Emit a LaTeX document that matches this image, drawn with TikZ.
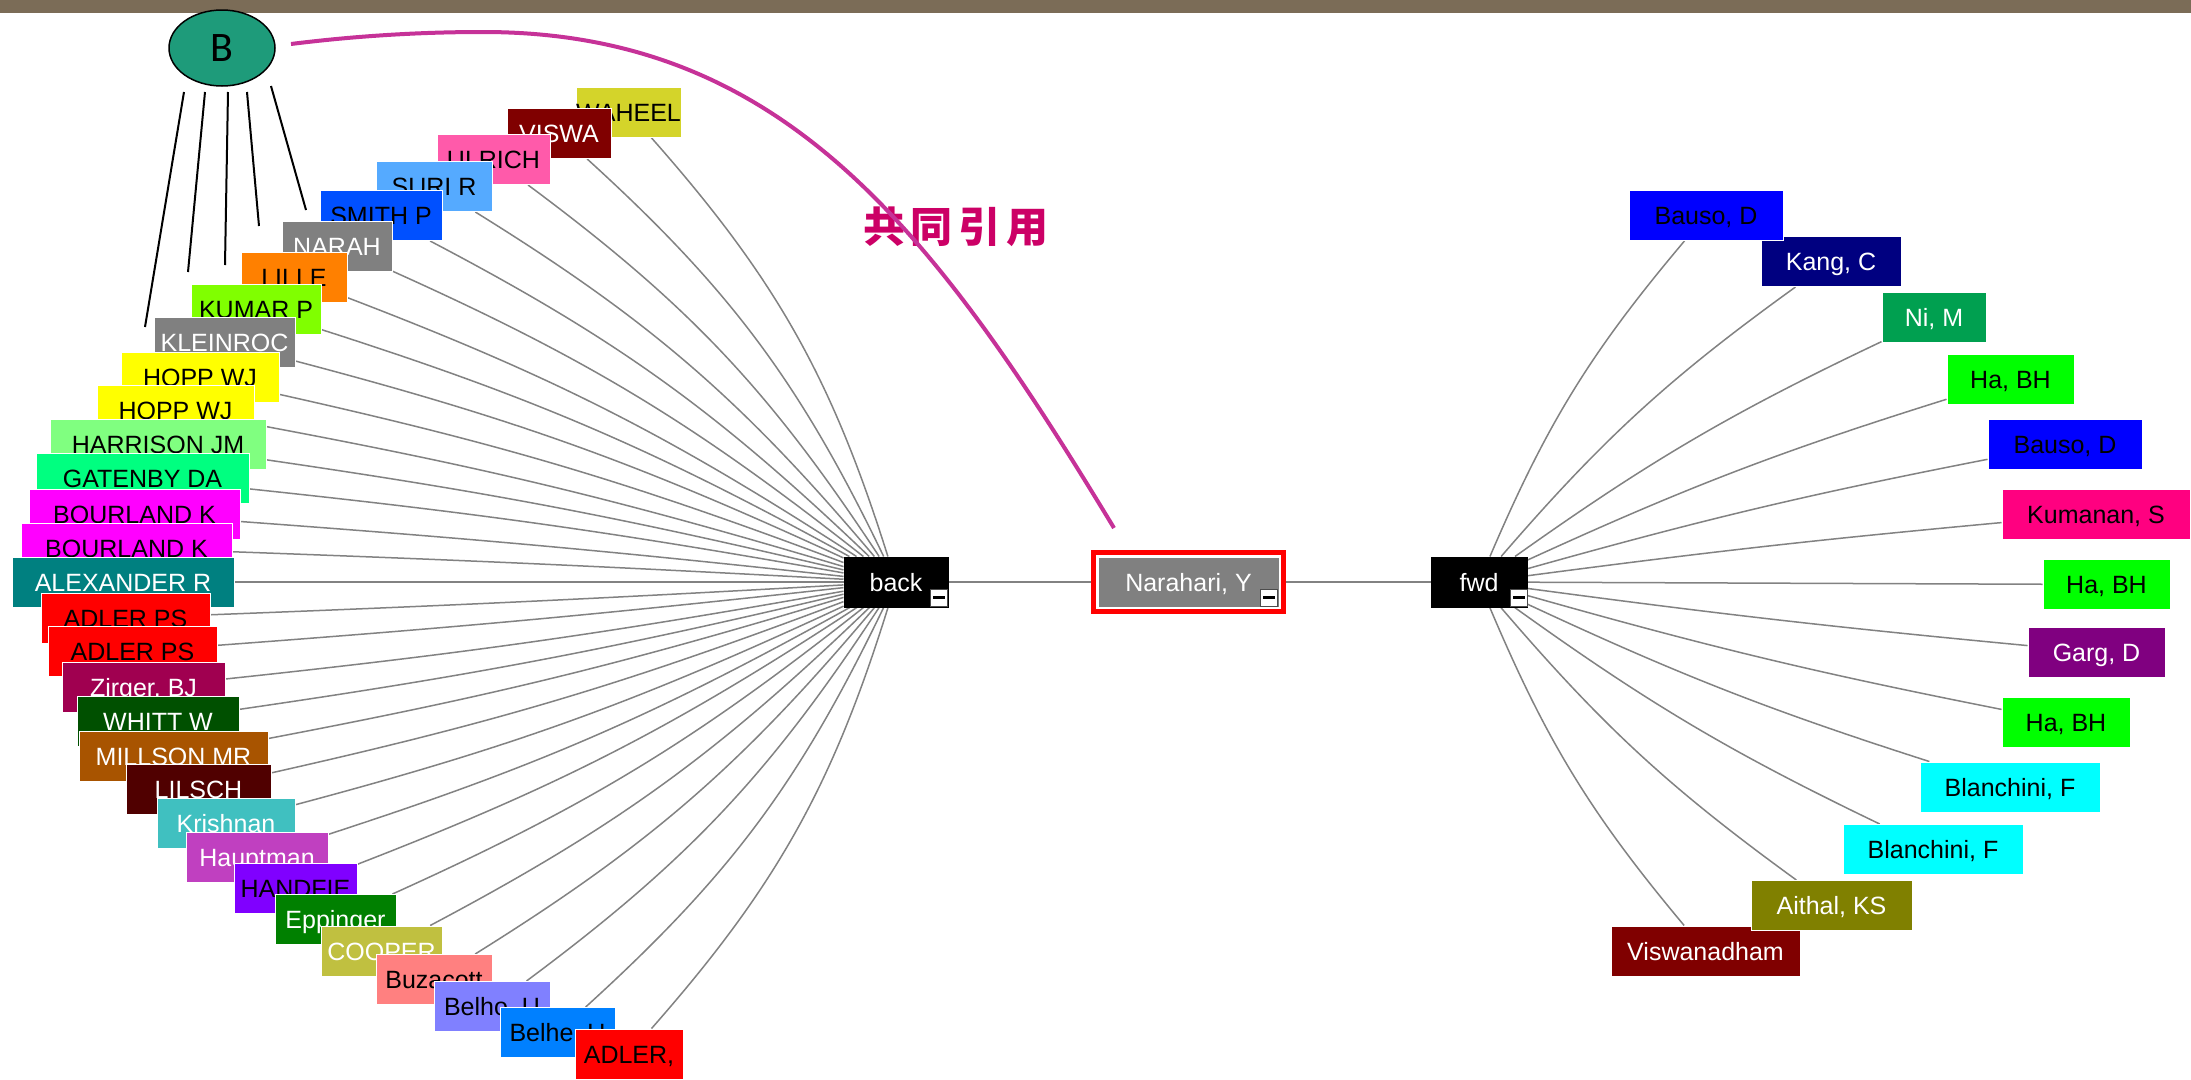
\documentclass[tikz,border=0pt]{standalone}
\usepackage{fontspec}
\setmainfont{Liberation Sans}
\newfontfamily\cjk{Noto Sans CJK SC}
\newfontfamily\carlito{Carlito}
\usepackage{tikz}
\usetikzlibrary{shapes.geometric, fit}
\pgfdeclarelayer{edgelayer}
\pgfdeclarelayer{nodelayer}
\pgfsetlayers{edgelayer,main,nodelayer}

\definecolor{cBar}{RGB}{123,108,87}
\definecolor{cBnode}{RGB}{30,155,122}
\definecolor{cCurve}{RGB}{198,50,152}
\definecolor{cCjk}{RGB}{204,0,102}
\definecolor{cFan}{RGB}{130,130,130}
\definecolor{cWaheel}{RGB}{212,212,42}
\definecolor{cMaroon}{RGB}{128,0,0}
\definecolor{cUlrich}{RGB}{255,90,170}
\definecolor{cSuri}{RGB}{85,170,255}
\definecolor{cSmith}{RGB}{0,80,255}
\definecolor{cGrey}{RGB}{128,128,128}
\definecolor{cLille}{RGB}{255,128,0}
\definecolor{cKumar}{RGB}{128,255,0}
\definecolor{cHopp}{RGB}{255,255,0}
\definecolor{cHarrison}{RGB}{128,255,128}
\definecolor{cGatenby}{RGB}{0,255,128}
\definecolor{cBourland}{RGB}{255,0,255}
\definecolor{cAlexander}{RGB}{0,128,128}
\definecolor{cAdler}{RGB}{255,0,0}
\definecolor{cZirger}{RGB}{160,0,80}
\definecolor{cWhitt}{RGB}{0,80,0}
\definecolor{cMillson}{RGB}{168,84,0}
\definecolor{cLilsch}{RGB}{80,0,0}
\definecolor{cKrishnan}{RGB}{64,192,192}
\definecolor{cHauptman}{RGB}{192,64,192}
\definecolor{cHandfie}{RGB}{128,0,255}
\definecolor{cEppinger}{RGB}{0,128,0}
\definecolor{cCooper}{RGB}{192,192,64}
\definecolor{cBuzacott}{RGB}{255,128,128}
\definecolor{cBelho}{RGB}{128,128,255}
\definecolor{cBelhe}{RGB}{0,128,255}
\definecolor{cBauso}{RGB}{0,0,255}
\definecolor{cKang}{RGB}{0,0,128}
\definecolor{cNi}{RGB}{0,160,80}
\definecolor{cHa}{RGB}{0,255,0}
\definecolor{cKumanan}{RGB}{255,0,128}
\definecolor{cGarg}{RGB}{128,0,128}
\definecolor{cBlanchini}{RGB}{0,255,255}
\definecolor{cAithal}{RGB}{128,128,0}

\tikzset{
	lab/.style={rectangle, draw=white, line width=1pt, minimum height=50pt, inner sep=0pt, text height=18pt, text depth=0pt, font=\fontsize{25}{30}\selectfont},
	wlab/.style={lab, text=white},
	hub/.style={lab, fill=black, text=white, draw=black},
	mini/.style={rectangle, draw=black!70, fill=white, line width=1pt, minimum size=17pt, inner sep=0pt, anchor=south east,
		path picture={\fill [black] ([xshift=-6pt, yshift=-1.5pt]path picture bounding box.center) rectangle ([xshift=6pt, yshift=1.5pt]path picture bounding box.center);}},
	fan/.style={draw=cFan, line width=1.5pt},
	blackline/.style={draw=black, line width=2pt},
}

\begin{document}
\begin{tikzpicture}[x=1pt, y=1pt]
	\useasboundingbox (0, 0) rectangle (2191, -1079);
	\begin{pgfonlayer}{nodelayer}
		\node [ellipse, draw=black, line width=1.5pt, fill=cBnode, minimum width=106pt, minimum height=76pt, font=\carlito\fontsize{42}{44}\selectfont] (B) at (222, -48) {B};
		% cited (left)
		\node [lab, fill=cWaheel, minimum width=105pt] (l1) at (628.5, -112) {WAHEEL};
		\node [wlab, fill=cMaroon, minimum width=104pt] (l2) at (559, -133.5) {VISWA};
		\node [lab, fill=cUlrich, minimum width=113pt] (l3) at (493.5, -159.5) {ULRICH};
		\node [lab, fill=cSuri, minimum width=116pt] (l4) at (434, -186.5) {SURI R};
		\node [lab, fill=cSmith, minimum width=122pt] (l5) at (381, -215.5) {SMITH P};
		\node [wlab, fill=cGrey, minimum width=110pt] (l6) at (337, -246.5) {NARAH};
		\node [lab, fill=cLille, minimum width=106pt] (l7) at (294, -277.5) {LILLE};
		\node [lab, fill=cKumar, minimum width=130pt] (l8) at (256, -309) {KUMAR P};
		\node [wlab, fill=cGrey, minimum width=141pt] (l9) at (224.5, -342.5) {KLEINROC};
		\node [lab, fill=cHopp, minimum width=158pt] (l10) at (200, -377) {HOPP WJ};
		\node [lab, fill=cHopp, minimum width=157pt] (l11) at (175.5, -410) {HOPP WJ};
		\node [lab, fill=cHarrison, minimum width=216pt] (l12) at (158, -444.5) {HARRISON JM};
		\node [lab, fill=cGatenby, minimum width=213pt] (l13) at (142.5, -478) {GATENBY DA};
		\node [lab, fill=cBourland, minimum width=211pt] (l14) at (134.5, -514) {BOURLAND K};
		\node [lab, fill=cBourland, minimum width=211pt] (l15) at (126.5, -548) {BOURLAND K};
		\node [wlab, fill=cAlexander, minimum width=222pt] (l16) at (123, -582) {ALEXANDER R};
		\node [lab, fill=cAdler, minimum width=169pt] (l17) at (125.5, -618) {ADLER PS};
		\node [lab, fill=cAdler, minimum width=169pt] (l18) at (132.5, -651.5) {ADLER PS};
		\node [wlab, fill=cZirger, minimum width=163pt] (l19) at (143.5, -687.5) {Zirger, BJ};
		\node [wlab, fill=cWhitt, minimum width=162pt] (l20) at (158, -721) {WHITT W};
		\node [wlab, fill=cMillson, minimum width=189pt] (l21) at (173.5, -756) {MILLSON MR};
		\node [wlab, fill=cLilsch, minimum width=145pt] (l22) at (198.5, -789) {LILSCH};
		\node [wlab, fill=cKrishnan, minimum width=138pt] (l23) at (226, -823) {Krishnan};
		\node [wlab, fill=cHauptman, minimum width=142pt] (l24) at (257, -857) {Hauptman};
		\node [lab, fill=cHandfie, minimum width=123pt] (l25) at (295.5, -888) {HANDFIE};
		\node [wlab, fill=cEppinger, minimum width=121pt] (l26) at (335.5, -919.5) {Eppinger};
		\node [wlab, fill=cCooper, minimum width=121pt] (l27) at (381.5, -951) {COOPER};
		\node [lab, fill=cBuzacott, minimum width=116pt] (l28) at (434, -979.5) {Buzacott};
		\node [lab, fill=cBelho, minimum width=116pt] (l29) at (492, -1006.5) {Belho, U};
		\node [lab, fill=cBelhe, minimum width=115pt] (l30) at (557.5, -1032.5) {Belhe, U};
		\node [lab, fill=cAdler, minimum width=108pt] (l31) at (629, -1054) {ADLER,};
		% centre
		\node [hub, minimum width=104pt] (back) at (896, -582) {back};
		\node [mini] (back-m) at ([xshift=-1pt, yshift=1pt]back.south east) {};
		\node [wlab, fill=cGrey, minimum width=181pt] (root) at (1188.5, -582) {Narahari, Y};
		\node [mini] (root-m) at ([xshift=-2pt, yshift=1pt]root.south east) {};
		\node [draw=red, line width=5pt, inner sep=4pt, fit=(root)] (sel) {};
		\node [hub, minimum width=96pt] (fwd) at (1479, -582) {fwd};
		\node [mini] (fwd-m) at ([xshift=0pt, yshift=1pt]fwd.south east) {};
		% citing (right)
		\node [wlab, fill=cMaroon, minimum width=189pt] (r13) at (1705.5, -951) {Viswanadham};
		\node [wlab, fill=cAithal, minimum width=161pt] (r12) at (1831.5, -905.5) {Aithal, KS};
		\node [lab, fill=cBlanchini, minimum width=180pt] (r11) at (1933, -849.5) {Blanchini, F};
		\node [lab, fill=cBlanchini, minimum width=180pt] (r10) at (2010, -787) {Blanchini, F};
		\node [lab, fill=cHa, minimum width=128pt] (r9) at (2066, -722) {Ha, BH};
		\node [wlab, fill=cGarg, minimum width=137pt] (r8) at (2096.5, -652) {Garg, D};
		\node [lab, fill=cHa, minimum width=127pt] (r7) at (2106.5, -584.5) {Ha, BH};
		\node [lab, fill=cKumanan, minimum width=188pt] (r6) at (2096, -514) {Kumanan, S};
		\node [lab, fill=cBauso, minimum width=154pt] (r5) at (2065, -444.5) {Bauso, D};
		\node [lab, fill=cHa, minimum width=127pt] (r4) at (2010.5, -379.5) {Ha, BH};
		\node [wlab, fill=cNi, minimum width=104pt] (r3) at (1934, -317) {Ni, M};
		\node [wlab, fill=cKang, minimum width=140pt] (r2) at (1831, -261.5) {Kang, C};
		\node [lab, fill=cBauso, minimum width=154pt] (r1) at (1706, -215.5) {Bauso, D};
	\end{pgfonlayer}
	\begin{pgfonlayer}{edgelayer}
		\fill [white] (0, 0) rectangle (2191, -1079);
		\fill [cBar] (0, 0) rectangle (2191, -13);
		\coordinate (b1) at (184, -92);
		\coordinate (b2) at (205, -92);
		\coordinate (b3) at (228, -92);
		\coordinate (b4) at (247, -92);
		\coordinate (b5) at (271, -86);
		\coordinate (b6) at (145, -327);
		\coordinate (b7) at (188, -272);
		\coordinate (b8) at (225, -265);
		\coordinate (b9) at (259, -226);
		\coordinate (b10) at (306, -210);
		\draw [blackline] (b1) to (b6);
		\draw [blackline] (b2) to (b7);
		\draw [blackline] (b3) to (b8);
		\draw [blackline] (b4) to (b9);
		\draw [blackline] (b5) to (b10);
		\draw [fan] (back) to (sel);
		\draw [fan] (sel) to (fwd);
		\draw [fan] (back) to [bend right=12] (l1);
		\draw [fan] (back) to [bend right=11] (l2);
		\draw [fan] (back) to [bend right=10] (l3);
		\draw [fan] (back) to [bend right=9] (l4);
		\draw [fan] (back) to [bend right=8] (l5);
		\draw [fan] (back) to [bend right=7] (l6);
		\draw [fan] (back) to [bend right=6] (l7);
		\draw [fan] (back) to [bend right=5.5] (l8);
		\draw [fan] (back) to [bend right=5] (l9);
		\draw [fan] (back) to [bend right=4] (l10);
		\draw [fan] (back) to [bend right=3] (l11);
		\draw [fan] (back) to [bend right=2.5] (l12);
		\draw [fan] (back) to [bend right=2] (l13);
		\draw [fan] (back) to [bend right=1] (l14);
		\draw [fan] (back) to [bend right=0.5] (l15);
		\draw [fan] (back) to (l16);
		\draw [fan] (back) to [bend left=0.5] (l17);
		\draw [fan] (back) to [bend left=1] (l18);
		\draw [fan] (back) to [bend left=2] (l19);
		\draw [fan] (back) to [bend left=2.5] (l20);
		\draw [fan] (back) to [bend left=3] (l21);
		\draw [fan] (back) to [bend left=4] (l22);
		\draw [fan] (back) to [bend left=5] (l23);
		\draw [fan] (back) to [bend left=5.5] (l24);
		\draw [fan] (back) to [bend left=6] (l25);
		\draw [fan] (back) to [bend left=7] (l26);
		\draw [fan] (back) to [bend left=8] (l27);
		\draw [fan] (back) to [bend left=9] (l28);
		\draw [fan] (back) to [bend left=10] (l29);
		\draw [fan] (back) to [bend left=11] (l30);
		\draw [fan] (back) to [bend left=12] (l31);
		\draw [fan] (fwd) to [bend left=8.5] (r1);
		\draw [fan] (fwd) to [bend left=6.7] (r2);
		\draw [fan] (fwd) to [bend left=5] (r3);
		\draw [fan] (fwd) to [bend left=3.6] (r4);
		\draw [fan] (fwd) to [bend left=2.3] (r5);
		\draw [fan] (fwd) to [bend left=1.1] (r6);
		\draw [fan] (fwd) to (r7);
		\draw [fan] (fwd) to [bend right=1.1] (r8);
		\draw [fan] (fwd) to [bend right=2.3] (r9);
		\draw [fan] (fwd) to [bend right=3.6] (r10);
		\draw [fan] (fwd) to [bend right=5] (r11);
		\draw [fan] (fwd) to [bend right=6.7] (r12);
		\draw [fan] (fwd) to [bend right=8.5] (r13);
	\end{pgfonlayer}
	% co-citation mark
	\node [text=cCjk, font=\cjk\bfseries\fontsize{42}{46}\selectfont, inner sep=0pt] (cocite) at (956, -227) {共\hspace{6pt}同\hspace{6pt}引\hspace{6pt}用};
	\coordinate (cs) at (291, -44);
	\coordinate (cp) at (483, -32);
	\coordinate (ce) at (1114, -528);
	\draw [cCurve, line width=4pt] (cs) .. controls (355, -36) and (419, -32) .. (cp) .. controls (783, -32) and (933, -229) .. (ce);
\end{tikzpicture}
\end{document}
